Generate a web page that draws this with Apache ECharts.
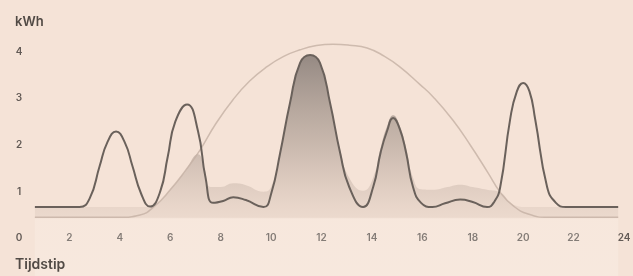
<!DOCTYPE html>
<html>
<head>
<meta charset="utf-8">
<script src="https://cdn.jsdelivr.net/npm/echarts@6/dist/echarts.min.js"></script>
<style>
  html, body { margin: 0; padding: 0; background: #f5e3d7; }
  #chart { width: 633px; height: 276px; }
</style>
</head>
<body>
<div id="chart"></div>
<script>
// verbruik (donkere lijn)
const verbruikUren = [0.63, 1.6, 2.4, 2.8, 3.2, 3.5, 3.85, 4.2, 4.5, 4.85, 5.2, 5.6, 5.9, 6.2, 6.67, 7.1, 7.4, 7.7, 8.1, 8.5, 9.0, 9.7, 10.0, 10.36, 10.75, 11.15, 11.55, 11.94, 12.34, 12.74, 13.1, 13.65, 14.05, 14.35, 14.6, 14.84, 15.1, 15.35, 15.63, 15.95, 16.4, 16.9, 17.5, 18.0, 18.57, 18.85, 19.09, 19.48, 19.75, 20.0, 20.25, 20.48, 20.95, 21.3, 21.7, 23.77];
const verbruikKwh = [0.67, 0.67, 0.67, 0.85, 1.55, 2.05, 2.29, 2.05, 1.55, 0.95, 0.68, 1.0, 1.75, 2.5, 2.87, 2.3, 1.3, 0.76, 0.8, 0.88, 0.82, 0.67, 0.95, 1.83, 2.9, 3.76, 3.93, 3.76, 2.9, 1.83, 1.1, 0.67, 1.1, 1.85, 2.3, 2.58, 2.35, 1.85, 1.1, 0.76, 0.67, 0.75, 0.83, 0.78, 0.67, 0.78, 1.1, 2.54, 3.15, 3.33, 3.15, 2.54, 1.1, 0.76, 0.67, 0.67];

// zonne-opwek (lichte boog)
const zonUren = [0.63, 4.0, 4.8, 5.4, 6.0, 6.6, 7.18, 7.8, 8.49, 9.15, 9.84, 10.5, 11.15, 11.8, 12.46, 13.1, 13.81, 14.5, 15.12, 15.9, 16.43, 17.2, 17.9, 18.6, 19.1, 19.6, 20.2, 21.0, 23.77];
const zonKwh = [0.45, 0.45, 0.5, 0.7, 1.04, 1.45, 1.89, 2.45, 2.97, 3.37, 3.68, 3.9, 4.04, 4.13, 4.16, 4.14, 4.08, 3.9, 3.67, 3.3, 3.03, 2.54, 2.0, 1.41, 0.98, 0.7, 0.52, 0.45, 0.45];

// eigen verbruik (gevuld vlak)
const eigenUren = [0.63, 4.9, 5.4, 6.0, 6.6, 7.1, 7.35, 7.6, 8.0, 8.5, 9.0, 9.7, 10.0, 10.36, 10.75, 11.15, 11.55, 11.94, 12.34, 12.74, 13.1, 13.65, 14.05, 14.35, 14.6, 14.84, 15.1, 15.35, 15.63, 15.95, 16.4, 17.0, 17.5, 18.0, 18.57, 19.1, 19.6, 20.2, 23.77];
const eigenKwh = [0.67, 0.67, 0.72, 1.04, 1.45, 1.8, 1.5, 1.1, 1.1, 1.18, 1.14, 1.0, 1.1, 1.83, 2.9, 3.76, 3.93, 3.76, 2.9, 1.9, 1.3, 1.02, 1.3, 1.95, 2.4, 2.64, 2.42, 1.95, 1.3, 1.05, 1.04, 1.1, 1.15, 1.1, 1.04, 0.98, 0.72, 0.67, 0.67];

const zip = (xs, ys) => xs.map((x, i) => [x, ys[i]]);

const chart = echarts.init(document.getElementById("chart"));

const labelColor = "#625a55";

const option = {
  backgroundColor: "#f5e3d7",
  animation: false,
  title: [
    {
      text: "kWh",
      left: 15,
      top: 16,
      padding: 0,
      textStyle: { fontFamily: "Inter", fontSize: 13, fontWeight: 600, color: "#514a45" },
    },
    {
      text: "Tijdstip",
      left: 15,
      top: 258,
      padding: 0,
      textStyle: { fontFamily: "Inter", fontSize: 14, fontWeight: 600, color: "#514a45" },
    },
  ],
  grid: {
    left: 19,
    right: 9,
    top: 5,
    height: 280,
    outerBoundsMode: "none",
    containLabel: false,
  },
  xAxis: {
    type: "value",
    min: 0,
    max: 24,
    interval: 2,
    axisLine: { show: false, onZero: false },
    axisTick: { show: false },
    splitLine: { show: false },
    axisLabel: {
      margin: -47,
      verticalAlign: "middle",
      fontFamily: "Inter",
      fontSize: 10,
      fontWeight: 600,
      color: labelColor,
    },
  },
  yAxis: {
    type: "value",
    min: -1,
    max: 5,
    interval: 1,
    axisLine: { show: false },
    axisTick: { show: false },
    splitLine: { show: false },
    axisLabel: {
      margin: 0,
      align: "center",
      fontFamily: "Inter",
      fontSize: 10,
      fontWeight: 600,
      color: labelColor,
      formatter: (v) => (v >= 1 && v <= 4 ? String(v) : ""),
    },
  },
  series: [
    {
      name: "Eigen verbruik",
      type: "line",
      smooth: 0.5,
      showSymbol: false,
      z: 1,
      data: zip(eigenUren, eigenKwh),
      lineStyle: { width: 0, opacity: 0 },
      areaStyle: {
        origin: "start",
        opacity: 1,
        color: {
          type: "linear",
          x: 0, y: 0, x2: 0, y2: 1,
          colorStops: [
            { offset: 0, color: "rgba(125,115,110,0.8)" },
            { offset: 0.4, color: "rgba(150,135,125,0.45)" },
            { offset: 0.66, color: "rgba(170,150,138,0.17)" },
            { offset: 0.705, color: "rgba(170,150,138,0.13)" },
            { offset: 0.712, color: "rgba(255,248,242,0.2)" },
            { offset: 1, color: "rgba(255,248,242,0.25)" },
          ],
        },
      },
    },
    {
      name: "Zonne-opwek",
      type: "line",
      smooth: 0.5,
      showSymbol: false,
      z: 2,
      data: zip(zonUren, zonKwh),
      lineStyle: { width: 1.5, color: "rgba(196,176,164,0.8)" },
    },
    {
      name: "Verbruik",
      type: "line",
      smooth: 0.5,
      showSymbol: false,
      z: 3,
      data: zip(verbruikUren, verbruikKwh),
      lineStyle: { width: 2, color: "#6a615b" },
    },
  ],
};

chart.setOption(option);
</script>
</body>
</html>
